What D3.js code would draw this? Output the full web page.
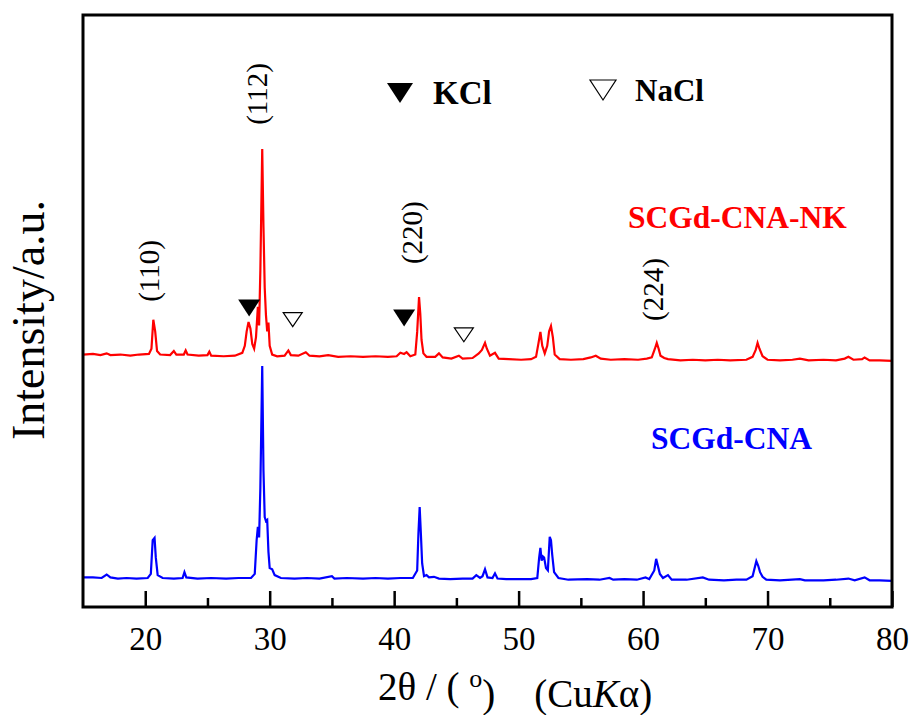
<!DOCTYPE html>
<html>
<head>
<meta charset="utf-8">
<script src="https://cdn.jsdelivr.net/npm/d3@7"></script>
<style>
  body { margin: 0; background: #fff; }
  text { font-family: "Liberation Serif", "Times New Roman", serif; }
</style>
</head>
<body>
<script>
// XRD patterns, [2theta, intensity (a.u.)]
var redPattern = [[15.0,430],[15.8,431],[16.4,429],[16.9,432],[17.2,429],[18.0,430],[18.8,428],[19.5,430],[20.3,431],[20.5,440],[20.65,490],[20.8,470],[20.95,436],[21.2,430],[22.0,429],[22.3,436],[22.5,430],[23.1,430],[23.25,437],[23.4,430],[24.3,428],[25.0,429],[25.15,435],[25.3,428],[26.3,427],[27.2,428],[27.8,433],[28.0,445],[28.15,470],[28.3,486],[28.45,475],[28.6,448],[28.75,440],[28.9,460],[29.05,512],[29.15,480],[29.25,575],[29.4,784],[29.5,650],[29.6,545],[29.7,498],[29.8,470],[29.9,485],[30.0,445],[30.2,430],[30.6,427],[31.2,428],[31.5,437],[31.7,429],[32.3,428],[32.9,434],[33.2,428],[34.0,427],[34.7,429],[35.5,426],[36.5,427],[37.5,426],[38.5,427],[39.5,426],[40.2,427],[40.5,433],[40.8,431],[41.0,434],[41.3,427],[41.7,430],[41.85,469],[42.0,529],[42.1,500],[42.2,455],[42.35,432],[42.6,426],[43.3,426],[43.6,432],[43.9,425],[44.6,423],[45.2,428],[45.5,423],[46.3,424],[46.8,432],[47.05,438],[47.3,450],[47.45,440],[47.7,428],[48.1,433],[48.4,423],[49.2,422],[50.2,421],[51.0,422],[51.4,426],[51.6,450],[51.75,469],[51.9,445],[52.1,432],[52.3,445],[52.45,470],[52.6,479],[52.75,460],[52.9,430],[53.3,422],[54.2,421],[55.2,422],[55.8,425],[56.2,428],[56.6,423],[57.4,421],[58.5,422],[59.6,421],[60.3,423],[60.7,425],[60.95,440],[61.1,450],[61.25,440],[61.4,428],[61.7,424],[62.0,422],[63.0,420],[64.0,421],[65.0,420],[66.0,421],[67.0,420],[68.3,421],[68.8,426],[69.05,438],[69.2,450],[69.35,440],[69.6,427],[70.0,421],[71.0,420],[72.0,421],[72.6,423],[73.3,420],[74.5,421],[75.5,420],[76.2,423],[76.5,426],[76.9,421],[77.6,422],[77.8,425],[78.2,420],[79.0,420],[80.0,419]];

var bluePattern = [[15.0,46],[15.8,46],[16.5,45],[16.9,51],[17.2,46],[17.8,44],[18.5,45],[19.3,44],[20.2,45],[20.45,52],[20.6,110],[20.75,114],[20.85,80],[21.0,50],[21.4,45],[22.3,44],[23.0,45],[23.15,55],[23.3,46],[24.2,44],[25.3,45],[26.5,44],[27.5,45],[28.5,45],[28.8,52],[28.95,110],[29.05,133],[29.15,115],[29.25,200],[29.4,410],[29.5,230],[29.6,150],[29.7,143],[29.8,145],[29.9,90],[30.0,62],[30.2,60],[30.4,50],[30.9,45],[32.0,44],[33.0,45],[34.0,44],[35.0,48],[35.2,44],[36.2,45],[37.5,44],[38.5,45],[39.5,44],[40.5,45],[41.5,45],[41.85,58],[41.95,122],[42.05,167],[42.15,120],[42.25,70],[42.4,48],[42.6,50],[42.8,46],[43.2,47],[43.6,44],[44.5,43],[45.5,44],[46.3,44],[46.6,50],[46.9,45],[47.1,48],[47.3,60],[47.5,46],[47.9,45],[48.1,53],[48.3,44],[49.0,43],[50.0,43],[51.0,43],[51.5,45],[51.65,80],[51.75,97],[51.85,75],[51.95,82],[52.05,80],[52.2,62],[52.35,58],[52.5,116],[52.6,110],[52.7,85],[52.85,55],[53.2,45],[54.0,42],[55.5,43],[56.5,42],[57.3,45],[57.6,42],[58.5,43],[59.5,42],[60.2,46],[60.5,43],[60.9,58],[61.05,78],[61.2,65],[61.35,52],[61.6,45],[62.0,50],[62.3,42],[63.5,42],[64.8,46],[65.3,42],[66.5,41],[67.5,42],[68.3,42],[68.8,48],[69.1,74],[69.25,66],[69.4,55],[69.6,47],[69.9,42],[71.0,41],[72.6,43],[73.0,41],[74.5,41],[75.5,42],[76.5,44],[77.0,41],[77.8,46],[78.2,41],[79.0,41],[80.0,40]];

var majorTicks = [20, 30, 40, 50, 60, 70, 80];
var minorTicks = [25, 35, 45, 55, 65, 75];

// miller indices: [label, 2theta, intensity]
var millerLabels = [["(110)", 20.3, 574], ["(112)", 29.0, 879], ["(220)", 41.4, 640], ["(224)", 60.8, 542]];
// phase markers: [2theta, intensity]
var kclMarks = [[28.35, 510], [40.8, 493]];
var naclMarks = [[31.85, 490], [45.6, 464]];

var W = 915, H = 715;
var margin = {top: 15, right: 23, bottom: 108, left: 83},
    width = W - margin.left - margin.right,
    height = H - margin.top - margin.bottom;

var x = d3.scaleLinear().domain([15, 80]).range([0, width]);
var y = d3.scaleLinear().domain([-5, 1015]).range([height, 0]);

var svg = d3.select("body").append("svg")
    .attr("width", W)
    .attr("height", H)
  .append("g")
    .attr("transform", "translate(" + margin.left + "," + margin.top + ")");

var line = d3.line()
    .x(function(d) { return x(d[0]); })
    .y(function(d) { return y(d[1]); });

// patterns
svg.append("path").datum(bluePattern)
    .attr("d", line)
    .attr("fill", "none")
    .attr("stroke", "#0000ff")
    .attr("stroke-width", 2.2);

svg.append("path").datum(redPattern)
    .attr("d", line)
    .attr("fill", "none")
    .attr("stroke", "#ff0000")
    .attr("stroke-width", 2.2);

// ticks pointing inward
var xAxis = svg.append("g")
    .attr("transform", "translate(0," + height + ")")
    .call(d3.axisBottom(x).tickValues(majorTicks).tickSizeInner(-16).tickSizeOuter(0).tickPadding(20));
xAxis.select(".domain").remove();
xAxis.selectAll("line").attr("stroke-width", 2.5);
xAxis.selectAll("text")
    .style("font-family", "'Liberation Serif', serif")
    .style("font-size", "33px")
    .attr("fill", "#000");

var xMinor = svg.append("g")
    .attr("transform", "translate(0," + height + ")")
    .call(d3.axisBottom(x).tickValues(minorTicks).tickSizeInner(-9).tickSizeOuter(0).tickFormat(""));
xMinor.select(".domain").remove();
xMinor.selectAll("line").attr("stroke-width", 2.5);

// frame
svg.append("rect")
    .attr("width", width)
    .attr("height", height)
    .attr("fill", "none")
    .attr("stroke", "#000")
    .attr("stroke-width", 3);

// triangles
function tri(cx, cy, w, h) {
  return "M" + (cx - w / 2) + "," + (cy - h / 2) + "L" + (cx + w / 2) + "," + (cy - h / 2) + "L" + cx + "," + (cy + h / 2) + "Z";
}
svg.selectAll(".kcl").data(kclMarks).enter().append("path")
    .attr("d", function(d) { return tri(x(d[0]), y(d[1]), 22, 17); })
    .attr("fill", "#000");
svg.selectAll(".nacl").data(naclMarks).enter().append("path")
    .attr("d", function(d) { return tri(x(d[0]), y(d[1]), 19, 14); })
    .attr("fill", "#fff")
    .attr("stroke", "#000")
    .attr("stroke-width", 1.2);

// miller index labels
svg.selectAll(".hkl").data(millerLabels).enter().append("text")
    .attr("transform", function(d) { return "translate(" + x(d[1]) + "," + y(d[2]) + ") rotate(-90)"; })
    .attr("text-anchor", "middle")
    .attr("dy", "0.35em")
    .style("font-size", "29px")
    .text(function(d) { return d[0]; });

// legend
svg.append("path").attr("d", tri(317, 78, 26, 20)).attr("fill", "#000");
svg.append("text").attr("x", 350).attr("y", 89)
    .style("font-size", "33px").style("font-weight", "bold").text("KCl");
svg.append("path").attr("d", tri(520, 75, 26, 20))
    .attr("fill", "#fff").attr("stroke", "#000").attr("stroke-width", 1.2);
svg.append("text").attr("x", 552).attr("y", 86)
    .style("font-size", "31px").style("font-weight", "bold").text("NaCl");

// series names
svg.append("text").attr("x", 545).attr("y", 213)
    .attr("fill", "#ff0000")
    .style("font-size", "31.5px").style("font-weight", "bold").text("SCGd-CNA-NK");
svg.append("text").attr("x", 568).attr("y", 434)
    .attr("fill", "#0000ff")
    .style("font-size", "31.5px").style("font-weight", "bold").text("SCGd-CNA");

// x axis title
var xt = svg.append("text")
    .attr("x", 378 - margin.left)
    .attr("y", height + 93)
    .style("font-size", "39px")
    .style("white-space", "pre");
xt.append("tspan").text("2θ / ( ");
xt.append("tspan").attr("dy", "-0.5em").style("font-size", "26px").text("o");
xt.append("tspan").attr("dy", "0.5em").text(")    (Cu");
xt.append("tspan").style("font-style", "italic").text("K");
xt.append("tspan").text("α)");

// y axis title
svg.append("text")
    .attr("transform", "rotate(-90)")
    .attr("x", -(320 - margin.top))
    .attr("y", 44 - margin.left)
    .attr("text-anchor", "middle")
    .style("font-size", "46px")
    .text("Intensity/a.u.");
</script>
</body>
</html>
